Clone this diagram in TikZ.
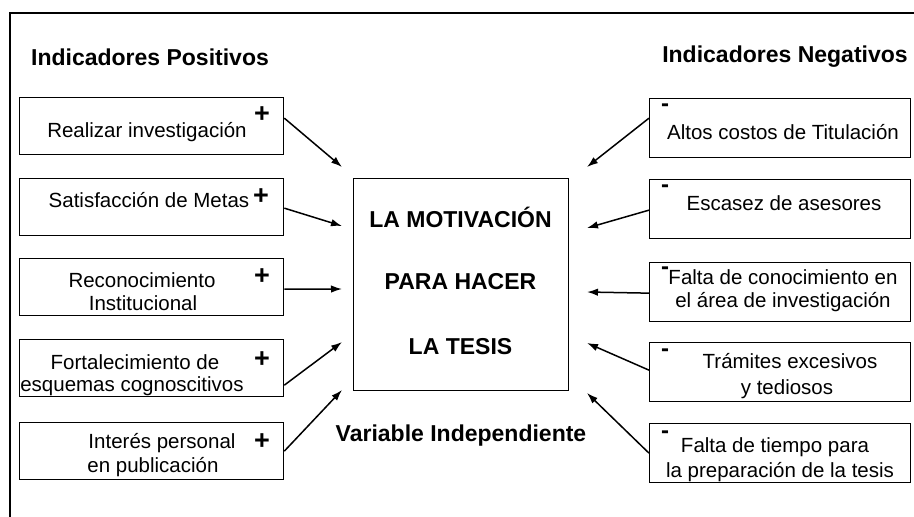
\documentclass[tikz,border=0pt]{standalone}
\usepackage{fontspec}
\setmainfont{Liberation Sans}
\usetikzlibrary{arrows.meta}
\begin{document}
\begin{tikzpicture}[x=1pt,y=-1pt,
  box/.style={draw,line width=1.3pt,rectangle,inner sep=0pt,anchor=north west},
  lbox/.style={box,minimum width=264pt,minimum height=57pt},
  rbox/.style={box,minimum width=261pt,minimum height=59pt},
  txt/.style={font=\fontsize{20.5}{24}\selectfont,inner sep=0pt,anchor=center},
  ttl/.style={font=\bfseries\fontsize{23}{27}\selectfont,inner sep=0pt,anchor=center},
  plus/.style={font=\bfseries\fontsize{27}{30}\selectfont,inner sep=0pt,anchor=center},
  minus/.style={font=\bfseries\fontsize{24}{26}\selectfont,inner sep=0pt,anchor=center},
  arr/.style={line width=1.5pt,-{Latex[length=11pt,width=7.5pt]}}]
\useasboundingbox (0,0) rectangle (914,517);
\fill[white] (0,0) rectangle (914,517);
% frame
\draw[line width=1.5pt] (10,517) -- (10,13) -- (914,13);
% titles
\node[ttl] (tp) at (150,57) {Indicadores Positivos};
\node[ttl] (tn) at (785,57) {Indicadores Negativos};
% center
\node[box,minimum width=215pt,minimum height=212pt] (c) at (353,178) {};
\node[ttl] (c1) at (460.5,217) {LA MOTIVACIÓN};
\node[ttl] (c2) at (460.5,282) {PARA HACER};
\node[ttl] (c3) at (460.5,347) {LA TESIS};
\node[ttl] (vi) at (461,436) {Variable Independiente};
% left boxes
\node[lbox] (l1) at (19,97) {};
\node[lbox] (l2) at (19,178) {};
\node[lbox] (l3) at (19,258) {};
\node[lbox] (l4) at (19,339) {};
\node[lbox] (l5) at (19,422) {};
\node[txt] (l1t) at (147,132) {Realizar investigación};
\node[txt] (l2t) at (149,200) {Satisfacción de Metas};
\node[txt] (l3a) at (142,280) {Reconocimiento};
\node[txt] (l3b) at (143,303) {Institucional};
\node[txt] (l4a) at (135,362) {Fortalecimiento de};
\node[txt] (l4b) at (132,386) {esquemas cognoscitivos};
\node[txt] (l5a) at (162,443) {Interés personal};
\node[txt] (l5b) at (153,467) {en publicación};
\node[plus] (p1) at (262,115) {+};
\node[plus] (p2) at (261,197) {+};
\node[plus] (p3) at (262,277) {+};
\node[plus] (p4) at (262,360) {+};
\node[plus] (p5) at (262,442) {+};
% right boxes
\node[rbox] (r1) at (649,98) {};
\node[rbox] (r2) at (649,179) {};
\node[rbox] (r3) at (649,262) {};
\node[rbox] (r4) at (649,342) {};
\node[rbox] (r5) at (649,423) {};
\node[txt] (r1t) at (783,132) {Altos costos de Titulación};
\node[txt] (r2t) at (784,203) {Escasez de asesores};
\node[txt] (r3a) at (783,277) {Falta de conocimiento en};
\node[txt] (r3b) at (783,302) {el área de investigación};
\node[txt] (r4a) at (790,361) {Trámites excesivos};
\node[txt] (r4b) at (787,389) {y tediosos};
\node[txt] (r5a) at (775,447) {Falta de tiempo para};
\node[txt] (r5b) at (780,472) {la preparación de la tesis};
\node[minus] (m1) at (665,108) {-};
\node[minus] (m2) at (665,189) {-};
\node[minus] (m3) at (665,271) {-};
\node[minus] (m4) at (665,353) {-};
\node[minus] (m5) at (665,435) {-};
% arrow ends
\coordinate (e1) at (342,167);
\coordinate (e2) at (342,226);
\coordinate (e3) at (342,289);
\coordinate (e4) at (342,342);
\coordinate (e5) at (342,390);
\coordinate (f1) at (587,167);
\coordinate (f2) at (587,228);
\coordinate (f3) at (587,292);
\coordinate (f4) at (587,343);
\coordinate (f5) at (587,393);
\draw[arr] ([yshift=8pt]l1.east) -- (e1);
\draw[arr] ([yshift=-1pt]l2.east) -- (e2);
\draw[arr] ([yshift=-2pt]l3.east) -- (e3);
\draw[arr] ([yshift=-17pt]l4.east) -- (e4);
\draw[arr] (l5.east) -- (e5);
\draw[arr] ([yshift=10pt]r1.west) -- (f1);
\draw[arr] ([yshift=-1pt]r2.west) -- (f2);
\draw[arr] ([yshift=-1pt]r3.west) -- (f3);
\draw[arr] ([yshift=2pt]r4.west) -- (f4);
\draw[arr] (r5.west) -- (f5);
\end{tikzpicture}
\end{document}
